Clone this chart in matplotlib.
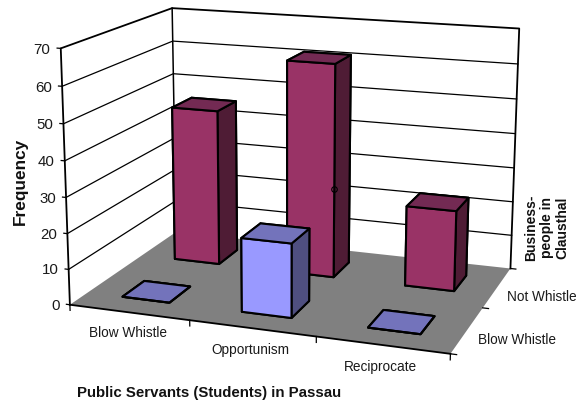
import numpy as np
import matplotlib
matplotlib.use('Agg')
import matplotlib.pyplot as plt
from mpl_toolkits.mplot3d import proj3d
from mpl_toolkits.mplot3d.art3d import Poly3DCollection

plt.rcParams['font.family'] = ['Liberation Sans', 'DejaVu Sans']

categories = ['Blow Whistle', 'Opportunism', 'Reciprocate']
rows = ['Blow Whistle', 'Not Whistle']
blow_whistle = [0, 20.5, 0]
not_whistle = [45.5, 61.5, 23]
yticks = [0, 10, 20, 30, 40, 50, 60, 70]

W, H = 579, 403
bar_w = 0.4

# box corners in world coords -> where they sit in the picture, fits the camera
world_pts = [(0, 0, 0), (3, 0, 0), (3, 2, 0), (0, 2, 0), (0, 0, 70), (0, 2, 70), (3, 2, 70)]
pixel_pts = [(71, 304), (450, 355), (511, 267), (175, 233), (60, 48), (173, 8), (519, 29)]


def fit_camera(world, pixel):
    A = []
    b = []
    for (x, y, z), (u, v) in zip(world, pixel):
        A.append([x, y, z, 1, 0, 0, 0, 0, -u * x, -u * y, -u * z])
        A.append([0, 0, 0, 0, x, y, z, 1, -v * x, -v * y, -v * z])
        b += [u, v]
    p = np.linalg.lstsq(np.array(A, float), np.array(b, float), rcond=None)[0]
    return np.array([p[:4], p[4:8], [-1 / 3, 1 / 2, -1 / 70, 2], [p[8], p[9], p[10], 1.0]])


fig = plt.figure(figsize=(W / 100, H / 100), dpi=100)
ax = fig.add_axes([0, 0, 1, 1], projection='3d')
ax.set_proj_type('ortho')  # otherwise lines get clipped outside -1..1
M = fit_camera(world_pts, pixel_pts)
ax.get_proj = lambda: M
ax.apply_aspect = lambda *a, **k: None
ax.computed_zorder = False
ax.set_axis_off()
ax._viewLim.intervalx = (0, W)
ax._viewLim.intervaly = (H, 0)


def label(x, y, z, s, **kw):
    u, v, _ = proj3d.proj_transform(x, y, z, M)
    ax.text2D(float(u), float(v), s, transform=ax.transData, va='center', color='#1a1a1a', zorder=4, **kw)


left_wall = [[(0, 0, 0), (0, 2, 0), (0, 2, 70), (0, 0, 70)]]
back_wall = [[(0, 2, 0), (3, 2, 0), (3, 2, 70), (0, 2, 70)]]
floor = [[(0, 0, 0), (3, 0, 0), (3, 2, 0), (0, 2, 0)]]
ax.add_collection3d(Poly3DCollection(left_wall, facecolor='white', edgecolor='none', zorder=1))
ax.add_collection3d(Poly3DCollection(back_wall, facecolor='white', edgecolor='none', zorder=1))
ax.add_collection3d(Poly3DCollection(floor, facecolor='#808080', edgecolor='none', zorder=2))

# gridlines
for v in yticks[1:-1]:
    ax.plot([0, 0, 3], [0, 2, 2], [v, v, v], color='black', lw=0.9, zorder=3)
# box outline
ax.plot([0, 0, 0, 3, 3], [0, 0, 2, 2, 2], [0, 70, 70, 70, 0], color='black', lw=1.3, zorder=3)
ax.plot([0, 0], [2, 2], [0, 70], color='black', lw=1.1, zorder=3)
ax.plot([0, 3], [0, 0], [0, 0], color='black', lw=1.3, zorder=3)

# ticks
for v in yticks:
    ax.plot([0, -0.03], [0, 0], [v, v], color='black', lw=0.9, zorder=3)
    label(-0.085, 0, v - 0.6, str(v), ha='right', fontsize=10.8)
for i in range(4):
    ax.plot([i, i], [0, 0], [0, -1.6], color='black', lw=0.9, zorder=3)
for j in range(3):
    ax.plot([3, 3.045], [j, j], [0, 0], color='black', lw=0.9, zorder=3)

for i, c in enumerate(categories):
    label(i + 0.5, -0.03, -5.5, c, ha='center', fontsize=9.8)
for j, r in enumerate(rows):
    label(3.08, j + 0.5, -2.5, r, ha='left', fontsize=9.8)

# bars: faces are bottom, top, front, back, left, right
red_faces = ['#4f1c35', '#732a53', '#993366', '#4f1c35', '#4f1c35', '#4f1c35']
blue_faces = ['#7373bb', '#7373bb', '#9999ff', '#4f4f80', '#4f4f80', '#4f4f80']
zo = 5
for j, vals, faces in [(1, not_whistle, red_faces), (0, blow_whistle, blue_faces)]:
    for i, v in enumerate(vals):
        ax.bar3d(i + 0.3, j + 0.3, 0, bar_w, bar_w, v, color=faces, edgecolor='black',
                 linewidth=1.5, shade=False, zorder=zo)
        zo += 1
    # the stray little ring on the middle back bar
    if j == 1:
        ax.plot([1.7], [1.3], [26], marker='o', ms=4, mfc='none', mec='black', mew=0.8,
                ls='none', zorder=zo)
        zo += 1

fig.text(20 / W, 1 - 181 / H, 'Frequency', rotation=90, ha='center', va='center',
         fontsize=12.4, fontweight='bold', color='#111111')
fig.text(209.5 / W, 1 - 393 / H, 'Public Servants (Students) in Passau', ha='center', va='center',
         fontsize=10.8, fontweight='bold', color='#111111')
fig.text(547 / W, 1 - 228 / H, 'Business-\npeople in\nClausthal', rotation=90, ha='center', va='center',
         multialignment='center', fontsize=10, fontweight='bold', color='#111111', linespacing=1.15)

fig.savefig('out.png', dpi=100)
